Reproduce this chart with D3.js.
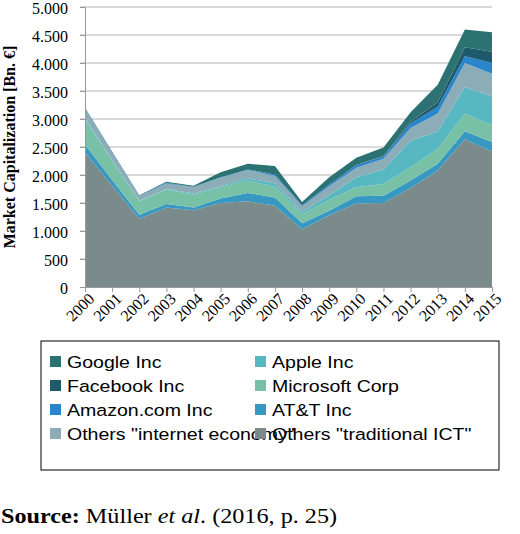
<!DOCTYPE html><html><head><meta charset="utf-8"><script src="https://cdn.jsdelivr.net/npm/d3@7"></script>
<style>body{margin:0;background:#fff}</style></head><body><svg id="c" width="520" height="534"></svg>
<script>
const years=["2000","2001","2002","2003","2004","2005","2006","2007","2008","2009","2010","2011","2012","2013","2014","2015"];
const seriesNames=["Others \"traditional ICT\"","AT&T Inc","Microsoft Corp","Apple Inc","Others \"internet economy\"","Amazon.com Inc","Facebook Inc","Google Inc"];
const trad=[2400,1810,1220,1420,1370,1500,1530,1450,1030,1280,1490,1500,1770,2080,2640,2420];
const att=[140,100,70,60,50,80,150,150,110,80,130,130,130,120,140,170];
const msft=[460,340,240,260,230,200,220,190,160,200,160,210,240,270,320,300];
const apple=[20,20,10,10,20,20,40,60,40,80,180,260,470,310,470,510];
const othInt=[160,130,80,100,110,150,150,130,100,160,170,190,230,320,430,410];
const amzn=[10,10,10,10,10,10,10,30,20,30,50,40,80,120,120,190];
const fb=[0,0,0,0,0,0,0,0,0,0,0,10,30,80,160,200];
const goog=[10,10,10,20,20,90,100,150,60,130,130,150,170,310,320,350];
const yTicks=[0,500,1000,1500,2000,2500,3000,3500,4000,4500,5000];
const colors=["#7b8b8b","#3799c2","#78c0a6","#58b8c2","#8cadb7","#2a86cc","#1f5a6c","#2d7272"];
const vals=[trad,att,msft,apple,othInt,amzn,fb,goog];
const rows=years.map((y,i)=>{const o={year:y};seriesNames.forEach((n,k)=>o[n]=vals[k][i]);return o;});
const svg=d3.select("#c");
const x=d3.scalePoint().domain(years).range([85,492]);
const y=d3.scaleLinear().domain([0,5000]).range([287,7]);
const fmt=d=>d3.format(",")(d).replace(/,/g,".");
svg.append("g").selectAll("line").data(yTicks.slice(1)).join("line").attr("x1",80).attr("x2",492).attr("y1",d=>y(d)).attr("y2",d=>y(d)).attr("stroke","#b5b5b5");
const stack=d3.stack().keys(seriesNames)(rows);
const area=d3.area().x(d=>x(d.data.year)).y0(d=>y(d[0])).y1(d=>y(d[1]));
svg.append("g").selectAll("path").data(stack).join("path").attr("d",area).attr("fill",(d,i)=>colors[i]);
const ya=svg.append("g").attr("transform","translate(85,0)").call(d3.axisLeft(y).tickValues(yTicks).tickFormat(fmt).tickSize(5));
ya.select(".domain").attr("stroke","#999");ya.selectAll("line").attr("stroke","#999");
ya.selectAll("text").attr("font-family","Liberation Serif").attr("font-size",16).attr("fill","#000").attr("x",-17).attr("dy","0.38em");
const xa=svg.append("g").attr("transform","translate(0,287)").call(d3.axisBottom(x).tickSize(5));
xa.select(".domain").attr("stroke","#999");xa.selectAll("line").attr("stroke","#999");
xa.selectAll("text").attr("font-family","Liberation Serif").attr("font-size",16).attr("fill","#000").attr("text-anchor","end").attr("transform","rotate(-45)").attr("dx","-2").attr("dy","8");
svg.append("text").attr("transform","translate(15,147) rotate(-90)").attr("text-anchor","middle").attr("font-family","Liberation Serif").attr("font-weight","bold").attr("font-size",16).text("Market Capitalization [Bn. €]");
svg.append("rect").attr("x",41).attr("y",341).attr("width",458).attr("height",129).attr("fill","none").attr("stroke","#000");
const legOrder=[[7,3],[6,2],[5,1],[4,0]];
legOrder.forEach((r,ri)=>r.forEach((k,ci)=>{
 const lx=ci?255:50, ly=362+ri*24;
 svg.append("rect").attr("x",lx).attr("y",ly-6).attr("width",11).attr("height",11).attr("fill",colors[k]);
 svg.append("text").attr("transform",`translate(${lx+17},${ly+6}) scale(1.15,1)`).attr("font-family","Liberation Sans").attr("font-size",17).text(seriesNames[k]);
}));
const s=svg.append("text").attr("transform","translate(1,523) scale(1.1,1)").attr("font-family","Liberation Serif").attr("font-size",22);
s.append("tspan").attr("font-weight","bold").text("Source:");
s.append("tspan").text(" Müller ");s.append("tspan").attr("font-style","italic").text("et al");s.append("tspan").text(". (2016, p. 25)");
</script></body></html>
